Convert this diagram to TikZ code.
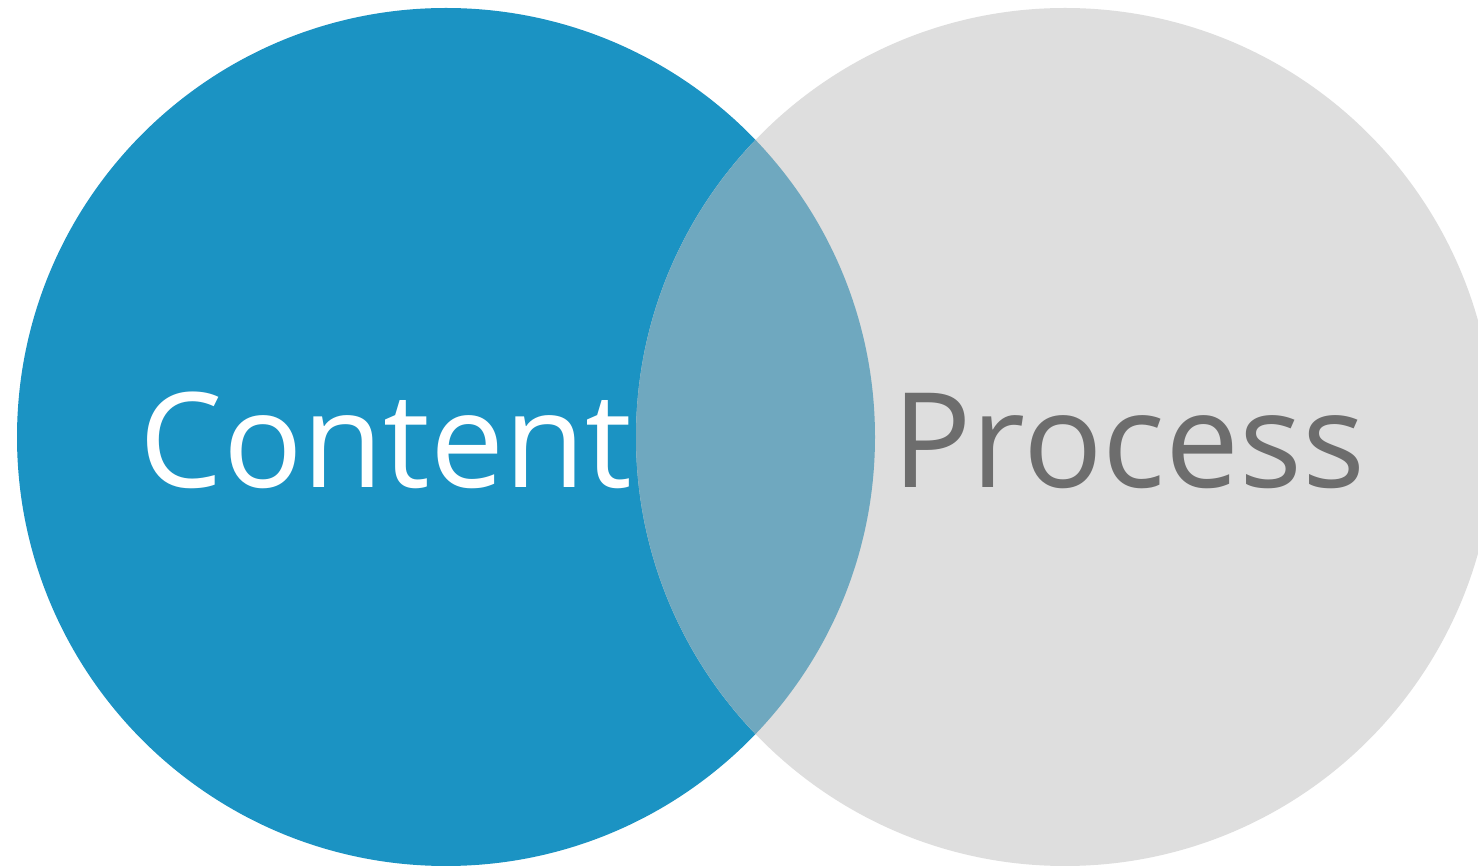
\documentclass[tikz,border=0pt]{standalone}
\usepackage{fontspec}
\setmainfont{Open Sans}
\definecolor{cblue}{HTML}{1B93C3}
\definecolor{cgray}{HTML}{DEDEDE}
\definecolor{cmix}{HTML}{6FA8BF}
\definecolor{ctext}{HTML}{6D6D6D}
\begin{document}
\begin{tikzpicture}[x=1pt,y=1pt,
  lbl/.style={anchor=base,inner sep=0pt,font=\fontsize{132}{132}\selectfont}]
\useasboundingbox (0,0) rectangle (1478,865);
\fill[white] (0,0) rectangle (1478,865);
\begin{scope}
\clip (0,0) rectangle (1478,865);
\fill[cblue] (446,428) circle (429);
\fill[cgray] (1065,428) circle (429);
\begin{scope}
\clip (446,428) circle (429);
\fill[cmix] (1065,428) circle (429);
\end{scope}
\end{scope}
\node[lbl,text=white] (content) at (386,377) {Content};
\node[lbl,text=ctext] (process) at (1129,377) {Process};
\end{tikzpicture}
\end{document}
